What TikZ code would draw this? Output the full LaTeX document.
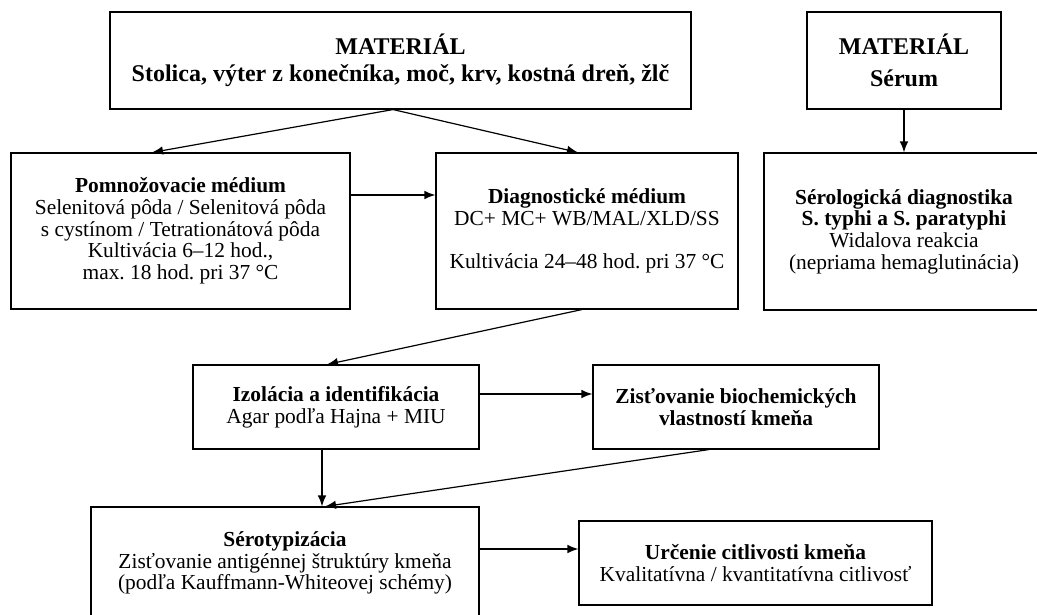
\documentclass[tikz,border=0pt]{standalone}
\usepackage{fontspec}
\setmainfont{Liberation Serif}
\frenchspacing
\usetikzlibrary{arrows.meta}
\tikzset{
  box/.style={draw=black, line width=1.1pt, inner sep=0pt, align=center, font=\fontsize{21.4}{21.7}\selectfont},
  bigbox/.style={box, font=\fontsize{24}{27}\selectfont\bfseries},
  conn/.style={line width=1.2pt, -{Latex[length=11pt,width=8.5pt]}}
}
\begin{document}
\begin{tikzpicture}[x=1pt,y=-1pt]
\useasboundingbox (0,0) rectangle (1037,614);
\node[bigbox, minimum width=581pt, minimum height=97pt] (A) at (400.5,60.5)
  {MATERIÁL\\Stolica, výter z konečníka, moč, krv, kostná dreň, žlč};
\node[bigbox, minimum width=194pt, minimum height=97pt] (M) at (904,60.5)
  {MATERIÁL\\[5pt]Sérum};
\node[box, minimum width=339pt, minimum height=156pt] (P) at (180.5,231)
  {\textbf{Pomnožovacie médium}\\Selenitová pôda / Selenitová pôda\\s cystínom / Tetrationátová pôda\\Kultivácia 6–12 hod.,\\max. 18 hod. pri 37 °C};
\node[box, minimum width=302pt, minimum height=156pt] (D) at (587,231)
  {\textbf{Diagnostické médium}\\DC+ MC+ WB/MAL/XLD/SS\\[21.7pt]Kultivácia 24–48 hod. pri 37 °C};
\node[box, minimum width=280pt, minimum height=157pt] (S) at (904,231.5)
  {\textbf{Sérologická diagnostika}\\\textbf{S. typhi a S. paratyphi}\\Widalova reakcia\\(nepriama hemaglutinácia)};
\node[box, minimum width=286pt, minimum height=84pt] (I) at (336,407)
  {\textbf{Izolácia a identifikácia}\\Agar podľa Hajna + MIU};
\node[box, minimum width=286pt, minimum height=84pt] (Z) at (736,407)
  {\textbf{Zisťovanie biochemických}\\\textbf{vlastností kmeňa}};
\node[box, minimum width=388pt, minimum height=112pt] (T) at (285,563)
  {\textbf{Sérotypizácia}\\Zisťovanie antigénnej štruktúry kmeňa\\(podľa Kauffmann-Whiteovej schémy)};
\node[box, minimum width=353pt, minimum height=84pt] (U) at (755.5,563)
  {\textbf{Určenie citlivosti kmeňa}\\Kvalitatívna / kvantitatívna citlivosť};
\draw[conn] ([xshift=-7.5pt]A.south) -- ([xshift=-28.5pt]P.north);
\draw[conn] ([xshift=-7.5pt]A.south) -- ([xshift=-9pt]D.north);
\draw[conn] ([yshift=36pt]P.east) -- ([yshift=36pt]D.west);
\draw[conn] (M.south) -- (S.north);
\draw[conn] ([xshift=-5pt]D.south) -- ([xshift=-9pt]I.north);
\draw[conn] ([yshift=13pt]I.east) -- ([yshift=13pt]Z.west);
\draw[conn] ([xshift=-14pt]I.south) -- ([xshift=37pt]T.north);
\draw[conn] ([xshift=-27pt]Z.south) -- ([xshift=40pt]T.north);
\draw[conn] ([yshift=14pt]T.east) -- ([yshift=14pt]U.west);
\end{tikzpicture}
\end{document}
